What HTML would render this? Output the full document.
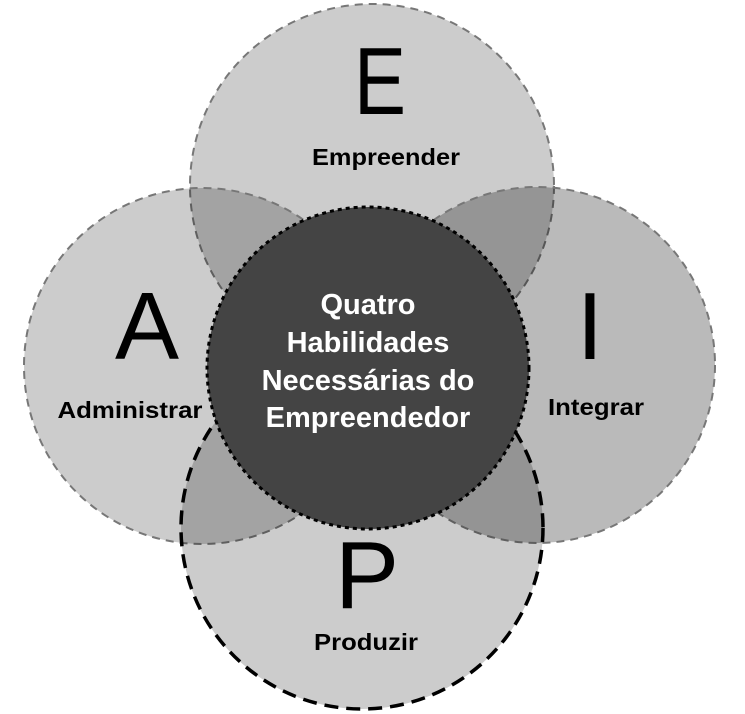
<!DOCTYPE html>
<html><head><meta charset="utf-8"><style>
html,body{margin:0;padding:0;background:#fff;}
svg{display:block;}
text{font-family:"Liberation Sans",sans-serif;}
</style></head><body>
<svg width="745" height="714" viewBox="0 0 745 714">
<g fill="#000" fill-opacity="0.2" stroke="#777" stroke-width="2" stroke-dasharray="8,6">
<circle cx="372" cy="186" r="182"/>
<circle cx="202" cy="366" r="178"/>
<circle cx="537" cy="365" r="178" fill-opacity="0.27"/>
<circle cx="362" cy="528" r="181" stroke="#000" stroke-width="3.5" stroke-dasharray="14,8"/>
</g>
<circle cx="368" cy="368" r="161" fill="#444" stroke="#000" stroke-width="3" stroke-dasharray="4,4"/>
<g font-weight="normal" fill="#000" font-size="96" text-anchor="middle">
<text x="380" y="114" textLength="52" lengthAdjust="spacingAndGlyphs">E</text>
<text x="147" y="359">A</text>
<text x="590" y="359">I</text>
<text x="367" y="608">P</text>
</g>
<g font-weight="bold" fill="#000" font-size="23" text-anchor="middle">
<text x="386" y="165" textLength="148" lengthAdjust="spacingAndGlyphs">Empreender</text>
<text x="130" y="418" textLength="145" lengthAdjust="spacingAndGlyphs">Administrar</text>
<text x="596" y="415" textLength="96" lengthAdjust="spacingAndGlyphs">Integrar</text>
<text x="366" y="650" textLength="104" lengthAdjust="spacingAndGlyphs">Produzir</text>
</g>
<g font-weight="bold" fill="#fff" font-size="29" text-anchor="middle">
<text x="368" y="314">Quatro</text>
<text x="368" y="352">Habilidades</text>
<text x="368" y="390">Necessárias do</text>
<text x="368" y="427">Empreendedor</text>
</g>
</svg>
</body></html>
